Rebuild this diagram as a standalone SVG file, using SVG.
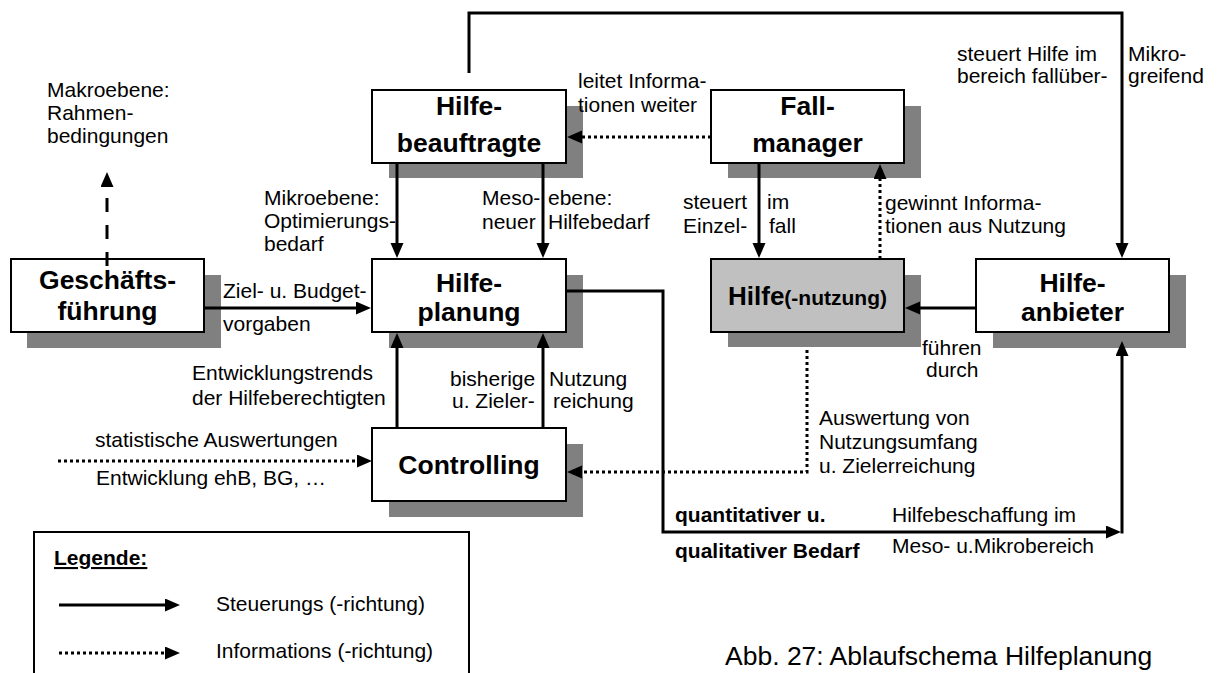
<svg xmlns="http://www.w3.org/2000/svg" width="1217" height="673" viewBox="0 0 1217 673">
  <style>
    .bg { fill: #ffffff; }
    .shadow { fill: #808080; }
    .box { fill: #ffffff; stroke: #000000; stroke-width: 2; }
    .box.grey { fill: #c0c0c0; }
    .line { fill: none; stroke: #000000; stroke-width: 3; }
    .dot { stroke-dasharray: 3 3; }
    .dash { stroke-dasharray: 14 13; }
    text { font-family: "Liberation Sans", Arial, sans-serif; fill: #000000; }
    .lbl { font-size: 21px; }
    .lblb { font-size: 21px; font-weight: bold; }
    .node { font-size: 26.5px; font-weight: bold; text-anchor: middle; }
    .cap { font-size: 26.5px; }
  </style>
  <defs>
    <marker id="ah" markerUnits="userSpaceOnUse" markerWidth="16" markerHeight="14" refX="3" refY="6.5" orient="auto">
      <path d="M0,0 L15,6.5 L0,13 z" fill="#000000"/>
    </marker>
  </defs>

  <rect class="bg" x="0" y="0" width="1217" height="673"/>

  <!-- nodes -->
  <g id="hilfebeauftragte">
    <rect class="shadow" x="389" y="106" width="194" height="72"/>
    <rect class="box" x="372" y="90" width="194" height="73"/>
    <text class="node" x="469" y="115">Hilfe-</text>
    <text class="node" x="469" y="152">beauftragte</text>
  </g>

  <g id="fallmanager">
    <rect class="shadow" x="728" y="106" width="193" height="72"/>
    <rect class="box" x="711" y="90" width="193" height="73"/>
    <text class="node" x="807.5" y="115">Fall-</text>
    <text class="node" x="807.5" y="152">manager</text>
  </g>

  <g id="geschaeftsfuehrung">
    <rect class="shadow" x="27" y="275" width="194" height="73"/>
    <rect class="box" x="11" y="259" width="193" height="73"/>
    <text class="node" x="107.5" y="289">Geschäfts-</text>
    <text class="node" x="107.5" y="320">führung</text>
  </g>

  <g id="hilfeplanung">
    <rect class="shadow" x="389" y="275" width="194" height="73"/>
    <rect class="box" x="372" y="259" width="194" height="73"/>
    <text class="node" x="469" y="292">Hilfe-</text>
    <text class="node" x="469" y="321">planung</text>
  </g>

  <g id="hilfenutzung">
    <rect class="shadow" x="728" y="275" width="193" height="72"/>
    <rect class="box grey" x="711" y="259" width="193" height="73"/>
    <text class="node" x="807.5" y="305"><tspan font-size="26px">Hilfe</tspan><tspan font-size="21px">(-nutzung)</tspan></text>
  </g>

  <g id="hilfeanbieter">
    <rect class="shadow" x="993" y="275" width="193" height="73"/>
    <rect class="box" x="976" y="259" width="193" height="73"/>
    <text class="node" x="1072.5" y="292">Hilfe-</text>
    <text class="node" x="1072.5" y="321">anbieter</text>
  </g>

  <g id="controlling">
    <rect class="shadow" x="389" y="444" width="194" height="73"/>
    <rect class="box" x="372" y="428" width="194" height="73"/>
    <text class="node" x="469" y="474">Controlling</text>
  </g>

  <!-- connectors, drawn over the box shadows -->
  <g id="connectors">
    <path class="line" d="M469,73 V13 H1122 V246" marker-end="url(#ah)"/>
    <path class="line dot" d="M711,137 H579" marker-end="url(#ah)"/>
    <path class="line" d="M397,164 V246" marker-end="url(#ah)"/>
    <path class="line" d="M543,164 V246" marker-end="url(#ah)"/>
    <path class="line" d="M759,164 V246" marker-end="url(#ah)"/>
    <path class="line dot" d="M880,259 V176" marker-end="url(#ah)"/>
    <path class="line dash" d="M107,266 V184" marker-end="url(#ah)"/>
    <path class="line" d="M204,308 H359" marker-end="url(#ah)"/>
    <path class="line" d="M976,308 H917" marker-end="url(#ah)"/>
    <path class="line" d="M397,428 V345" marker-end="url(#ah)"/>
    <path class="line" d="M543,428 V345" marker-end="url(#ah)"/>
    <path class="line" d="M567,291 H663 V532 H1109" marker-end="url(#ah)"/>
    <path class="line" d="M1122,533.5 V353" marker-end="url(#ah)"/>
    <path class="line dot" d="M807,350 V472 H579" marker-end="url(#ah)"/>
    <path class="line dot" d="M58,461 H360" marker-end="url(#ah)"/>
  </g>

  <!-- connector labels -->
  <g id="labels">
    <text class="lbl" x="47" y="97">Makroebene:</text>
    <text class="lbl" x="47" y="120">Rahmen-</text>
    <text class="lbl" x="47" y="143">bedingungen</text>

    <text class="lbl" x="264" y="205">Mikroebene:</text>
    <text class="lbl" x="264" y="228">Optimierungs-</text>
    <text class="lbl" x="264" y="251">bedarf</text>

    <text class="lbl" x="482" y="205">Meso-</text>
    <text class="lbl" x="482" y="229">neuer</text>
    <text class="lbl" x="548" y="205">ebene:</text>
    <text class="lbl" x="548" y="229">Hilfebedarf</text>

    <text class="lbl" x="578" y="88">leitet Informa-</text>
    <text class="lbl" x="578" y="112">tionen weiter</text>

    <text class="lbl" x="683" y="209">steuert</text>
    <text class="lbl" x="683" y="233">Einzel-</text>
    <text class="lbl" x="767" y="209">im</text>
    <text class="lbl" x="769" y="233">fall</text>

    <text class="lbl" x="885" y="210">gewinnt Informa-</text>
    <text class="lbl" x="885" y="233">tionen aus Nutzung</text>

    <text class="lbl" x="957" y="61">steuert Hilfe im</text>
    <text class="lbl" x="957" y="83">bereich fallüber-</text>
    <text class="lbl" x="1128" y="61">Mikro-</text>
    <text class="lbl" x="1128" y="83">greifend</text>

    <text class="lbl" x="223" y="298">Ziel- u. Budget-</text>
    <text class="lbl" x="223" y="331">vorgaben</text>

    <text class="lbl" x="192" y="380">Entwicklungstrends</text>
    <text class="lbl" x="192" y="405">der Hilfeberechtigten</text>

    <text class="lbl" x="450" y="386">bisherige</text>
    <text class="lbl" x="452" y="408">u. Zieler-</text>
    <text class="lbl" x="549" y="386">Nutzung</text>
    <text class="lbl" x="553" y="408">reichung</text>

    <text class="lbl" x="922" y="355">führen</text>
    <text class="lbl" x="926" y="377">durch</text>

    <text class="lbl" x="819" y="425">Auswertung von</text>
    <text class="lbl" x="819" y="449">Nutzungsumfang</text>
    <text class="lbl" x="819" y="473">u. Zielerreichung</text>

    <text class="lbl" x="95" y="447">statistische Auswertungen</text>
    <text class="lbl" x="96" y="485">Entwicklung ehB, BG, …</text>

    <text class="lblb" x="675" y="522">quantitativer u.</text>
    <text class="lblb" x="675" y="558">qualitativer Bedarf</text>

    <text class="lbl" x="892" y="522">Hilfebeschaffung im</text>
    <text class="lbl" x="892" y="553">Meso- u.Mikrobereich</text>
  </g>

  <!-- legend -->
  <g id="legend">
    <rect x="34" y="532" width="435" height="150" fill="#ffffff" stroke="#000000" stroke-width="2"/>
    <text class="lblb" x="54" y="565" text-decoration="underline">Legende:</text>
    <path class="line" d="M59,605 H168" marker-end="url(#ah)"/>
    <text class="lbl" x="216" y="611">Steuerungs (-richtung)</text>
    <path class="line dot" d="M59,653 H168" marker-end="url(#ah)"/>
    <text class="lbl" x="216" y="658">Informations (-richtung)</text>
  </g>

  <text class="cap" x="725" y="665">Abb. 27: Ablaufschema Hilfeplanung</text>
</svg>
